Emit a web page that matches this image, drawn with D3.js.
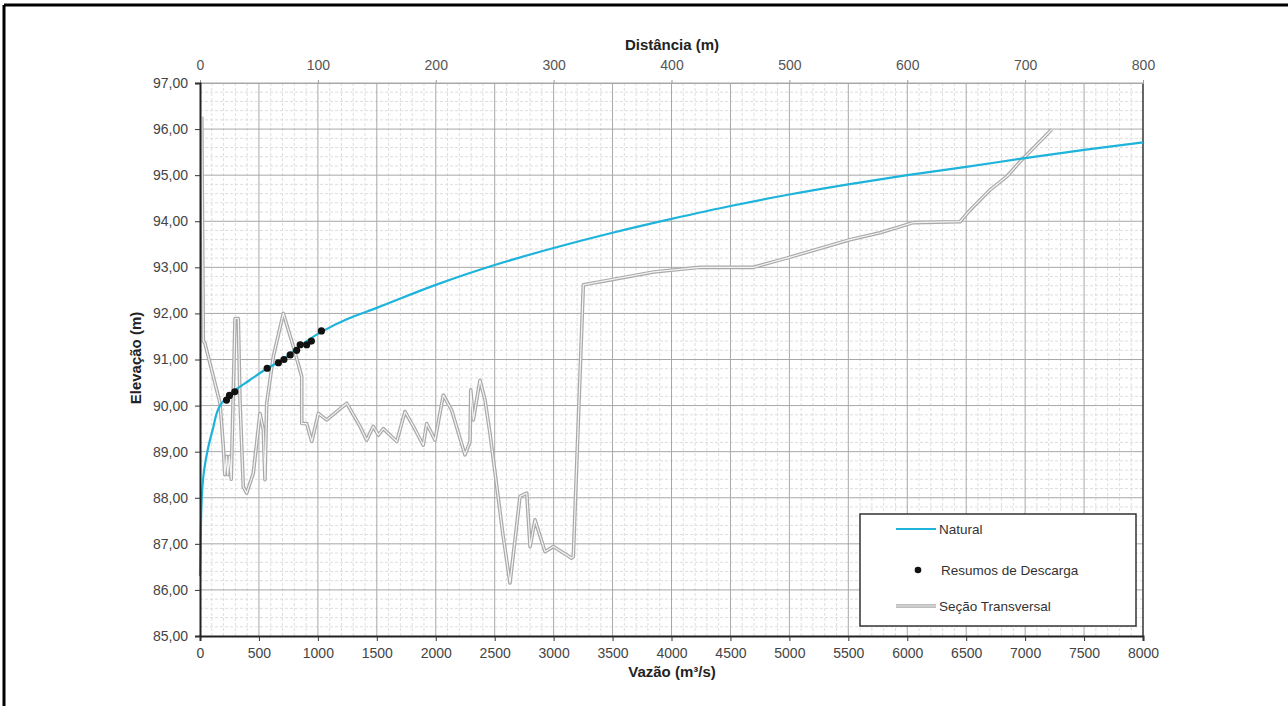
<!DOCTYPE html>
<html><head><meta charset="utf-8">
<script src="https://cdn.jsdelivr.net/npm/d3@7"></script>
<style>
body{margin:0;background:#fff;}
svg{display:block;font-family:"Liberation Sans",Arial,sans-serif;}
</style>
</head><body>
<svg id="c" width="1288" height="706"></svg>
<script>
// ---- Data ----
const flowTicks = [0,500,1000,1500,2000,2500,3000,3500,4000,4500,5000,5500,6000,6500,7000,7500,8000];
const distTicks = [0,100,200,300,400,500,600,700,800];
const elevTicks = [85,86,87,88,89,90,91,92,93,94,95,96,97];
const elevTickLabels = ["85,00","86,00","87,00","88,00","89,00","90,00","91,00","92,00","93,00","94,00","95,00","96,00","97,00"];

// Natural rating curve (Vazão m³/s vs Elevação m)
const naturalQ = [0,5,15,35,62,110,170,280,420,565,705,850,1030,1250,1500,2000,2500,3000,3500,4000,4500,5000,5500,6000,6500,7000,7500,8000];
const naturalE = [86.3,87.0,88.0,88.6,89.0,89.5,90.0,90.3,90.55,90.8,91.0,91.3,91.6,91.88,92.12,92.62,93.05,93.42,93.75,94.05,94.33,94.58,94.8,95.0,95.18,95.37,95.55,95.71];

// Resumos de Descarga (measured discharges)
const dischargeQ = [225,250,295,570,665,712,765,820,850,905,945,1030];
const dischargeE = [90.12,90.22,90.30,90.81,90.93,91.00,91.10,91.20,91.32,91.32,91.40,91.62];

// Seção Transversal (Distância m vs Elevação m)
const sectionD = [1.5,2.8,4.2,17.0,19.8,21.0,22.5,23.5,25.0,26.5,29.7,32.5,33.9,36.7,39.6,45.2,50.9,53.7,55.1,56.6,62.2,70.7,79.2,86.3,86.3,90.5,94.8,100.4,107.5,124.5,135.7,141.4,147.0,151.3,155.5,166.9,173.9,181.0,189.4,192.3,199.4,206.4,213.5,224.8,229.1,229.7,231.9,237.5,241.8,246.0,252.0,257.0,263.0,271.5,277.2,280.0,284.2,292.7,299.7,315.3,316.7,325.2,342.1,385.0,424.2,460.9,469.4,497.7,551.4,576.9,605.1,644.8,653.2,670.2,684.4,695.6,722.5];
const sectionE = [96.27,91.4,91.35,90.05,89.1,88.5,88.9,88.5,88.9,88.4,91.89,91.89,90.12,88.24,88.1,88.53,89.83,89.47,88.39,90.05,91.06,92.0,91.28,90.63,89.61,89.61,89.22,89.83,89.69,90.05,89.55,89.25,89.55,89.36,89.5,89.22,89.87,89.55,89.14,89.61,89.25,90.23,89.9,88.93,89.22,90.34,89.69,90.55,90.12,89.4,88.2,87.2,86.15,88.03,88.1,86.94,87.52,86.83,86.94,86.69,86.72,92.62,92.7,92.9,93.0,93.0,93.0,93.2,93.6,93.75,93.97,93.99,94.24,94.68,94.97,95.29,95.99];

const legendLabels = ["Natural","Resumos de Descarga","Seção Transversal"];

// ---- Layout ----
const L = 200, R = 1143, T = 83, B = 636;
const svg = d3.select("#c");
const x = d3.scaleLinear().domain([0,8000]).range([L,R]);
const xd = d3.scaleLinear().domain([0,800]).range([L,R]);
const y = d3.scaleLinear().domain([85,97]).range([B,T]);

const cyan = "#1db3da";
const FONT = "'Liberation Sans',Arial,sans-serif";

// frame of the figure
svg.append("line").attr("x1",4).attr("x2",1288).attr("y1",5).attr("y2",5).attr("stroke","#000").attr("stroke-width",3);
svg.append("line").attr("x1",4).attr("x2",4).attr("y1",5).attr("y2",706).attr("stroke","#000").attr("stroke-width",3);

// grid
const g = svg.append("g");
const minorX = d3.range(100,8000,100).filter(v => v % 500 !== 0);
const minorY = d3.range(85.2,97,0.2).filter(v => Math.abs(v - Math.round(v)) > 0.01);
g.selectAll(".mx").data(minorX).join("line")
  .attr("x1",d=>x(d)).attr("x2",d=>x(d)).attr("y1",T).attr("y2",B)
  .attr("stroke","#dedede").attr("stroke-width",1).attr("stroke-dasharray","3,2");
g.selectAll(".my").data(minorY).join("line")
  .attr("x1",L).attr("x2",R).attr("y1",d=>y(d)).attr("y2",d=>y(d))
  .attr("stroke","#dedede").attr("stroke-width",1).attr("stroke-dasharray","3,2");
g.selectAll(".Mx").data(flowTicks.slice(1,-1)).join("line")
  .attr("x1",d=>x(d)).attr("x2",d=>x(d)).attr("y1",T).attr("y2",B)
  .attr("stroke","#a8a8a8").attr("stroke-width",1);
g.selectAll(".My").data(elevTicks.slice(1)).join("line")
  .attr("x1",L).attr("x2",R).attr("y1",d=>y(d)).attr("y2",d=>y(d))
  .attr("stroke","#a8a8a8").attr("stroke-width",1);

// right border
svg.append("line").attr("x1",R).attr("x2",R).attr("y1",T).attr("y2",B).attr("stroke","#333").attr("stroke-width",1.5);

// cross-section (double line)
const secData = sectionD.map((d,i)=>[d, sectionE[i]]);
const secLine = d3.line().x(d=>xd(d[0])).y(d=>y(d[1]));
svg.append("path").attr("d",secLine(secData)).attr("fill","none").attr("stroke","#a9a9a9").attr("stroke-width",3.6).attr("stroke-linejoin","round");
svg.append("path").attr("d",secLine(secData)).attr("fill","none").attr("stroke","#f4f4f4").attr("stroke-width",1.2).attr("stroke-linejoin","round");

// natural curve
const natData = naturalQ.map((q,i)=>[q, naturalE[i]]);
svg.append("path").attr("d", d3.line().x(d=>x(d[0])).y(d=>y(d[1])).curve(d3.curveMonotoneY)(natData))
  .attr("fill","none").attr("stroke",cyan).attr("stroke-width",2.2);

// discharge points
svg.selectAll(".pt").data(dischargeQ.map((q,i)=>[q,dischargeE[i]])).join("circle")
  .attr("cx",d=>x(d[0])).attr("cy",d=>y(d[1])).attr("r",3.6).attr("fill","#111");

// axes
function styleAxis(sel, col){
  sel.selectAll("text").attr("font-size",14).attr("fill",col).attr("font-family",FONT);
}
const ax = svg.append("g").attr("transform",`translate(0,${B})`)
  .call(d3.axisBottom(x).tickValues(flowTicks).tickFormat(d=>String(d)).tickSize(5).tickPadding(7));
ax.select(".domain").attr("stroke","#222").attr("stroke-width",2);
ax.selectAll(".tick line").attr("stroke","#333");
styleAxis(ax,"#444");

const at = svg.append("g").attr("transform",`translate(0,${T})`)
  .call(d3.axisTop(xd).tickValues(distTicks).tickFormat(d=>String(d)).tickSize(3).tickPadding(10));
at.select(".domain").attr("stroke","#a8a8a8").attr("stroke-width",1);
at.selectAll(".tick line").attr("stroke","#999");
styleAxis(at,"#555");

const ay = svg.append("g").attr("transform",`translate(${L},0)`)
  .call(d3.axisLeft(y).tickValues(elevTicks).tickFormat((d,i)=>elevTickLabels[i]).tickSize(5).tickPadding(7));
ay.select(".domain").attr("stroke","#222").attr("stroke-width",2);
ay.selectAll(".tick line").attr("stroke","#333");
styleAxis(ay,"#444");

// axis titles
svg.append("text").attr("x",672).attr("y",50).attr("text-anchor","middle")
  .attr("font-size",15).attr("font-weight","bold").attr("fill","#222").text("Distância (m)");
svg.append("text").attr("x",672).attr("y",677).attr("text-anchor","middle")
  .attr("font-size",15).attr("font-weight","bold").attr("fill","#222").text("Vazão (m³/s)");
svg.append("text").attr("transform","translate(141,358) rotate(-90)").attr("text-anchor","middle")
  .attr("font-size",15).attr("font-weight","bold").attr("fill","#222").text("Elevação (m)");

// legend
const lg = svg.append("g");
lg.append("rect").attr("x",860).attr("y",514).attr("width",276).attr("height",112)
  .attr("fill","#fff").attr("stroke","#333").attr("stroke-width",1.5);
lg.append("line").attr("x1",896).attr("x2",936).attr("y1",529).attr("y2",529).attr("stroke",cyan).attr("stroke-width",2.2);
lg.append("circle").attr("cx",918).attr("cy",570).attr("r",3.3).attr("fill","#111");
lg.append("line").attr("x1",896).attr("x2",936).attr("y1",606).attr("y2",606).attr("stroke","#a9a9a9").attr("stroke-width",3.6);
lg.append("line").attr("x1",896).attr("x2",936).attr("y1",606).attr("y2",606).attr("stroke","#f4f4f4").attr("stroke-width",1.2);
const ly = [529,570,606], lx = [939,941,939];
lg.selectAll(".lt").data(legendLabels).join("text")
  .attr("x",(d,i)=>lx[i]).attr("y",(d,i)=>ly[i]+5)
  .attr("font-size",13.5).attr("fill","#333").text(d=>d);
</script>
</body></html>
